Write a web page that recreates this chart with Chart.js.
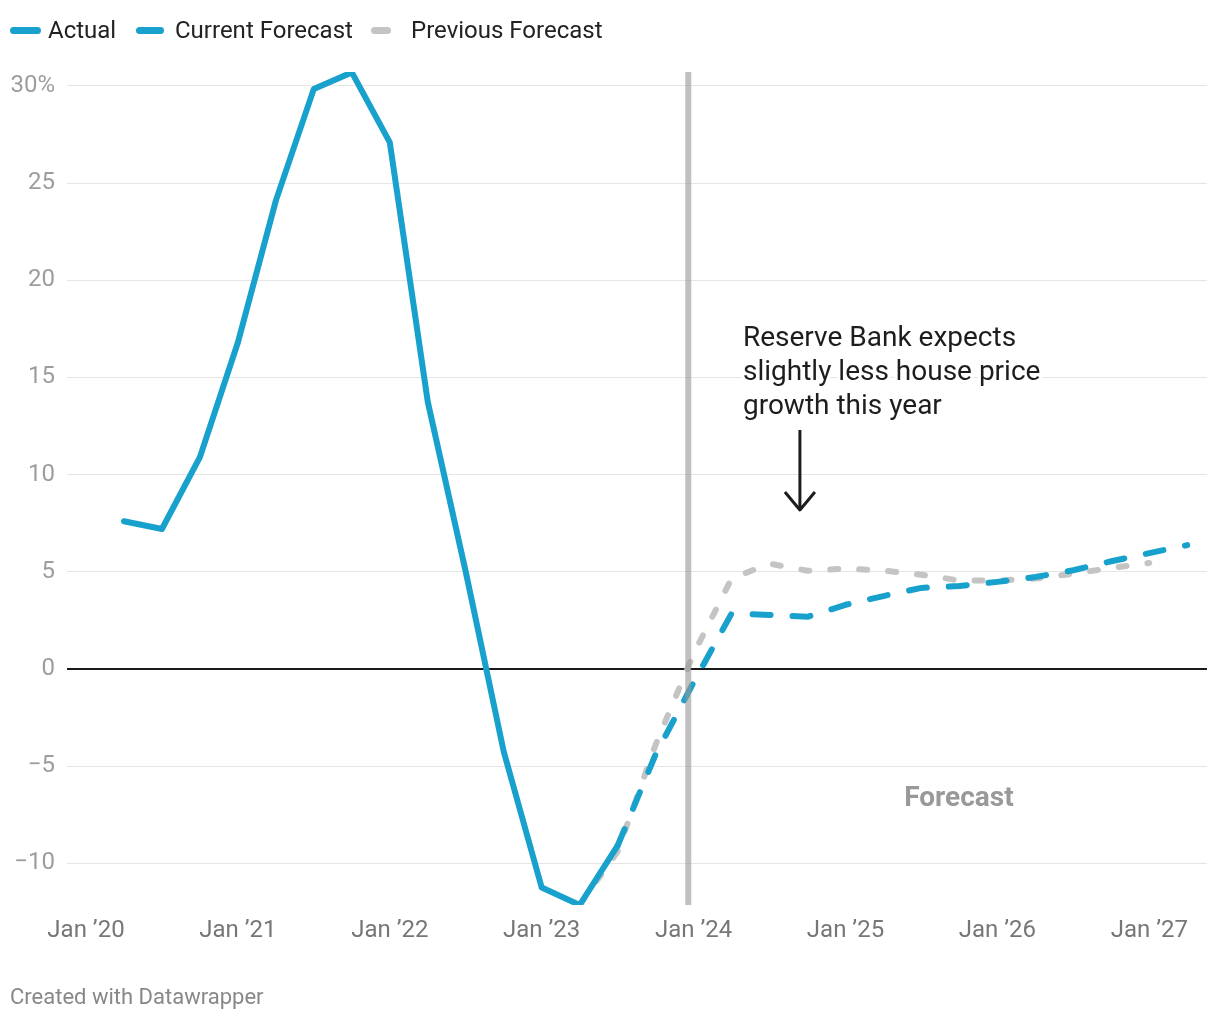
<!DOCTYPE html>
<html>
<head>
<meta charset="utf-8">
<script src="https://cdn.jsdelivr.net/npm/chart.js@4.4.0/dist/chart.umd.min.js"></script>
<style>
  html, body { margin: 0; padding: 0; background: #fff; }
  body { width: 1220px; height: 1020px; position: relative; overflow: hidden; font-family: Roboto, sans-serif; }
  #chart { position: absolute; left: 0; top: 0; }
  .sw { position: absolute; height: 7px; border-radius: 4px; top: 27px; }
  .lg { position: absolute; top: 16px; font-size: 24px; line-height: 28px; color: #222; white-space: nowrap; }
  #foot { position: absolute; left: 10px; top: 984px; font-size: 22px; line-height: 26px; color: #888; }
</style>
</head>
<body>
<canvas id="chart" width="1220" height="1020"></canvas>

<div class="sw" style="left:10px; width:31px; background:#18a1cd"></div>
<div class="lg" style="left:48px">Actual</div>
<div class="sw" style="left:136px; width:28px; background:#18a1cd"></div>
<div class="lg" style="left:175px">Current Forecast</div>
<div class="sw" style="left:371px; width:20px; background:#c4c4c4"></div>
<div class="lg" style="left:411px">Previous Forecast</div>
<div id="foot">Created with Datawrapper</div>

<script>
// 데이터 (연도 소수 표기, 분기말)
const actualDates = [2020.25, 2020.5, 2020.75, 2021.0, 2021.25, 2021.5, 2021.75, 2022.0,
  2022.25, 2022.5, 2022.75, 2023.0, 2023.25, 2023.5];
const actualValues = [7.6, 7.2, 10.9, 16.8, 24.1, 29.85, 30.7, 27.1,
  13.75, 5.0, -4.25, -11.25, -12.15, -9.1];

const currentDates = [2023.5, 2023.75, 2024.0, 2024.25, 2024.5, 2024.75, 2025.0, 2025.25,
  2025.5, 2025.75, 2026.0, 2026.25, 2026.5, 2026.75, 2027.0, 2027.25];
const currentValues = [-9.1, -4.4, -0.7, 2.85, 2.78, 2.68, 3.3, 3.75,
  4.17, 4.27, 4.48, 4.73, 5.08, 5.54, 5.96, 6.37];

const previousDates = [2023.25, 2023.5, 2023.75, 2024.0, 2024.25, 2024.5, 2024.75, 2025.0,
  2025.25, 2025.5, 2025.75, 2026.0, 2026.25, 2026.5, 2026.75, 2027.0];
const previousValues = [-12.15, -9.4, -3.9, 0.77, 4.65, 5.42, 5.05, 5.16,
  5.06, 4.85, 4.55, 4.55, 4.65, 4.9, 5.2, 5.45];

const xTicks = [2020, 2021, 2022, 2023, 2024, 2025, 2026, 2027];
const xTickLabels = ['Jan ’20', 'Jan ’21', 'Jan ’22', 'Jan ’23', 'Jan ’24', 'Jan ’25', 'Jan ’26', 'Jan ’27'];
const yTicks = [-10, -5, 0, 5, 10, 15, 20, 25, 30];

const xMin = 2019.875, xMax = 2027.38;
const yMin = -12.15, yMax = 30.72;

// 주석 위치 (데이터 좌표)
const forecastStart = 2023.965;
const noteLines = ['Reserve Bank expects', 'slightly less house price', 'growth this year'];
const noteAt = { x: 2024.325, y: 16.98 };
const arrowAt = { x: 2024.70, from: 12.3, to: 8.18 };
const forecastLabelAt = { x: 2025.747, y: -6.69 };

const BLUE = '#18a1cd';
const GREY = '#c4c4c4';

const toPoints = (xs, ys) => xs.map((x, i) => ({ x, y: ys[i] }));

Chart.defaults.font.family = 'Roboto, sans-serif';

const overlay = {
  id: 'overlay',
  afterDatasetsDraw(chart) {
    const { ctx, chartArea, scales: { x, y } } = chart;
    ctx.save();

    // 예측 구분선
    const fx = x.getPixelForValue(forecastStart);
    ctx.strokeStyle = 'rgba(150,150,150,0.6)';
    ctx.lineWidth = 6;
    ctx.beginPath();
    ctx.moveTo(fx, chartArea.top);
    ctx.lineTo(fx, chartArea.bottom);
    ctx.stroke();

    // 설명 텍스트
    ctx.font = '28px Roboto, sans-serif';
    ctx.textBaseline = 'middle';
    ctx.textAlign = 'left';
    ctx.lineJoin = 'round';
    const nx = x.getPixelForValue(noteAt.x);
    const ny = y.getPixelForValue(noteAt.y);
    noteLines.forEach((t, i) => {
      ctx.strokeStyle = '#fff';
      ctx.lineWidth = 6;
      ctx.strokeText(t, nx, ny + i * 34);
      ctx.fillStyle = '#1d1d1d';
      ctx.fillText(t, nx, ny + i * 34);
    });

    // 화살표
    const ax = x.getPixelForValue(arrowAt.x);
    const a0 = y.getPixelForValue(arrowAt.from);
    const a1 = y.getPixelForValue(arrowAt.to);
    ctx.strokeStyle = '#1d1d1d';
    ctx.lineWidth = 3;
    ctx.lineCap = 'butt';
    ctx.beginPath();
    ctx.moveTo(ax, a0);
    ctx.lineTo(ax, a1 - 1);
    ctx.moveTo(ax - 15, a1 - 18);
    ctx.lineTo(ax, a1);
    ctx.lineTo(ax + 15, a1 - 18);
    ctx.stroke();

    // Forecast 라벨
    ctx.font = 'bold 28px Roboto, sans-serif';
    ctx.textAlign = 'center';
    ctx.fillStyle = '#999';
    ctx.fillText('Forecast', x.getPixelForValue(forecastLabelAt.x), y.getPixelForValue(forecastLabelAt.y));

    ctx.restore();
  }
};

new Chart(document.getElementById('chart').getContext('2d'), {
  type: 'line',
  data: {
    datasets: [
      { label: 'Actual', data: toPoints(actualDates, actualValues), borderColor: BLUE, borderWidth: 6 },
      { label: 'Current Forecast', data: toPoints(currentDates, currentValues), borderColor: BLUE, borderWidth: 6, borderDash: [18, 22] },
      { label: 'Previous Forecast', data: toPoints(previousDates, previousValues), borderColor: GREY, borderWidth: 6, borderDash: [8, 21] }
    ]
  },
  options: {
    responsive: false,
    devicePixelRatio: 1,
    animation: false,
    layout: { padding: { top: 72, right: 13, left: 0, bottom: 0 } },
    elements: {
      point: { radius: 0 },
      line: { tension: 0, borderCapStyle: 'round', borderJoinStyle: 'round', fill: false }
    },
    plugins: { legend: { display: false }, tooltip: { enabled: false } },
    scales: {
      x: {
        type: 'linear',
        min: xMin,
        max: xMax,
        grid: { display: false },
        border: { display: false },
        afterFit(s) { s.height = 115; },
        afterBuildTicks(s) { s.ticks = xTicks.map(v => ({ value: v })); },
        ticks: {
          padding: 4,
          color: '#777',
          maxRotation: 0,
          autoSkip: false,
          font: { size: 24 },
          callback: v => xTickLabels[xTicks.indexOf(v)]
        }
      },
      y: {
        min: yMin,
        max: yMax,
        afterFit(s) { s.width = 67; },
        afterBuildTicks(s) { s.ticks = yTicks.map(v => ({ value: v })); },
        grid: {
          drawTicks: false,
          color: c => c.tick.value === 0 ? '#1a1a1a' : '#e5e5e5',
          lineWidth: c => c.tick.value === 0 ? 2 : 1
        },
        border: { display: false },
        ticks: {
          padding: 12,
          color: '#9d9d9d',
          font: { size: 24 },
          callback: v => v === 30 ? '30%' : (v < 0 ? '−' + Math.abs(v) : String(v))
        }
      }
    }
  },
  plugins: [overlay]
});
</script>
</body>
</html>
